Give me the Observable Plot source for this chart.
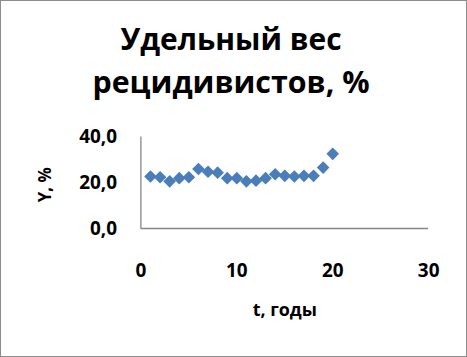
<!DOCTYPE html>
<html>
<head>
<meta charset="utf-8">
<script src="https://cdn.jsdelivr.net/npm/d3@7"></script>
<script src="https://cdn.jsdelivr.net/npm/@observablehq/plot@0.6"></script>
<style>
  html, body { margin: 0; padding: 0; background: #fff; }
  #wrap { position: relative; width: 467px; height: 357px; box-sizing: border-box; border: 1px solid #8c8c8c; overflow: hidden; }
  #wrap svg { position: absolute; left: -1px; top: -1px; }
</style>
</head>
<body>
<div id="wrap"></div>
<script>
const titleLines = ["Удельный вес", "рецидивистов, %"];
const xLabel = "t, годы";
const yLabel = "Y, %";
const years = [1,2,3,4,5,6,7,8,9,10,11,12,13,14,15,16,17,18,19,20];
const shares = [22.7,22.4,20.6,22.0,22.4,26.0,24.8,24.4,22.0,22.0,20.6,20.9,22.0,23.7,23.0,22.7,23.0,23.0,26.6,32.6];
const xTicks = [0,10,20,30];
const yTicks = [0,20,40];

const data = years.map((t, i) => ({t, y: shares[i]}));
const font = "'Open Sans', 'DejaVu Sans', sans-serif";

const chart = Plot.plot({
  width: 467,
  height: 357,
  marginLeft: 141,
  marginRight: 37,
  marginTop: 137,
  marginBottom: 128,
  style: { fontFamily: font, background: "transparent", overflow: "visible" },
  x: { domain: [0, 30], ticks: xTicks, label: null },
  y: { domain: [0, 40], ticks: yTicks, label: null },
  marks: [
    Plot.axisX({ticks: xTicks, tickSize: 0, tickPadding: 35, fontSize: 19, fontWeight: "bold", fill: "#000", label: null}),
    Plot.axisY({ticks: yTicks, tickSize: 0, tickPadding: 24, fontSize: 19, fontWeight: "bold", fill: "#000", label: null,
      tickFormat: d => d.toFixed(1).replace(".", ",")}),
    Plot.ruleX([0], {stroke: "#868686", strokeWidth: 1.3}),
    Plot.ruleY([0], {stroke: "#868686", strokeWidth: 1.3}),
    Plot.dot(data, {x: "t", y: "y", symbol: "diamond2", r: 5.7, fill: "#4a7ebb", stroke: "none"}),
    Plot.text([xLabel], {frameAnchor: "bottom", lineAnchor: "bottom", dy: 88, fontSize: 18, fontWeight: "bold", fill: "#000"}),
    Plot.text([yLabel], {frameAnchor: "left", textAnchor: "middle", lineAnchor: "bottom", rotate: -90, dx: -90, dy: 2, fontSize: 17, fontWeight: "bold", fill: "#000"}),
    Plot.text([titleLines[0]], {frameAnchor: "top", lineAnchor: "bottom", dx: -54, dy: -87, fontSize: 30, fontWeight: "bold", fill: "#000"}),
    Plot.text([titleLines[1]], {frameAnchor: "top", lineAnchor: "bottom", dx: -54, dy: -44, fontSize: 30.5, fontWeight: "bold", fill: "#000"})
  ]
});
document.getElementById("wrap").appendChild(chart);
</script>
</body>
</html>
